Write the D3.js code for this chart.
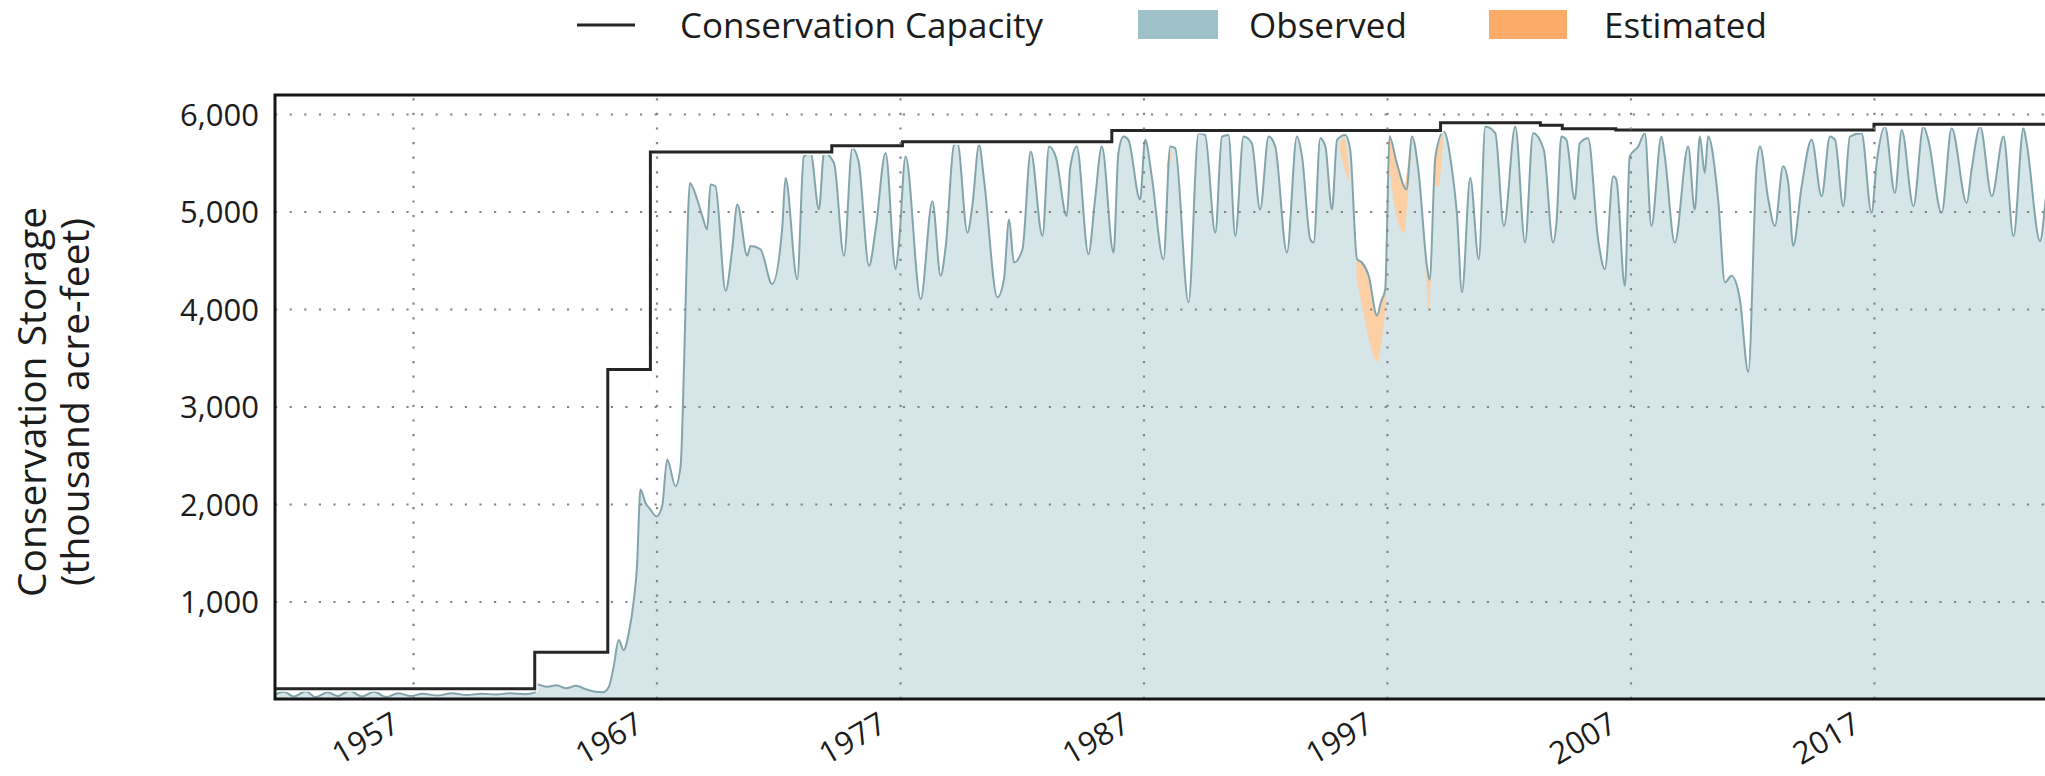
<!DOCTYPE html>
<html lang="en">
<head>
<meta charset="utf-8">
<title>Conservation Storage</title>
<script src="https://cdn.jsdelivr.net/npm/d3@7"></script>
<style>
  body { margin: 0; background: #fff; }
  text { font-family: "Open Sans", Lato, sans-serif; fill: #1c1c1c; }
  .axis text { font-size: 31px; }
  .axis .domain { display: none; }
  .grid line { stroke: #858585; stroke-width: 2.2; stroke-dasharray: 2.2 12.4; }
  .grid .domain { display: none; }
  .legend text { font-size: 35px; }
  .ytitle { font-size: 39px; }
</style>
</head>
<body>
<div class="chart"></div>
<script>

// observed conservation storage, [decimal year, thousand acre-feet]
var observed = [
  [1951.33, 45], [1951.7, 75], [1952.1, 25], [1952.6, 80], [1953.0, 20], [1953.5, 70],
  [1953.9, 30], [1954.4, 85], [1954.9, 25], [1955.4, 75], [1955.9, 20], [1956.4, 60],
  [1956.9, 30], [1957.4, 55], [1958.0, 35], [1958.6, 60], [1959.2, 40], [1959.8, 55],
  [1960.4, 45], [1961.0, 60], [1961.6, 50], [1962.0, 65], [1962.1, 150], [1962.5, 125],
  [1962.9, 140], [1963.3, 110], [1963.7, 135], [1964.1, 100], [1964.5, 75], [1964.8, 70],
  [1965.04, 124], [1965.24, 330], [1965.45, 604], [1965.65, 501], [1965.86, 673],
  [1966.07, 1016], [1966.2, 1359], [1966.34, 2148], [1966.55, 2011], [1966.75, 1942],
  [1967.0, 1873], [1967.23, 1976], [1967.44, 2456], [1967.78, 2182], [1967.99, 2388],
  [1968.13, 3417], [1968.22, 4300], [1968.3, 5000], [1968.37, 5293], [1968.67, 5123],
  [1968.88, 4953], [1969.08, 4817], [1969.22, 5276], [1969.42, 5259], [1969.84, 4188],
  [1970.11, 4613], [1970.32, 5072], [1970.73, 4545], [1970.86, 4647], [1971.27, 4613],
  [1971.75, 4256], [1972.16, 4817], [1972.3, 5344], [1972.78, 4307], [1973.05, 5565],
  [1973.33, 5599], [1973.67, 5021], [1973.88, 5599], [1974.29, 5497], [1974.7, 4545],
  [1975.04, 5650], [1975.3, 5514], [1975.73, 4443], [1976.0, 4817], [1976.41, 5599],
  [1976.82, 4409], [1976.96, 4681], [1977.23, 5565], [1977.85, 4103], [1978.33, 5106],
  [1978.67, 4341], [1978.88, 4647], [1979.22, 5684], [1979.36, 5701], [1979.77, 4783],
  [1979.97, 5055], [1980.25, 5684], [1980.45, 5327], [1981.0, 4120], [1981.27, 4307],
  [1981.48, 4919], [1981.68, 4477], [1982.03, 4613], [1982.37, 5616], [1982.85, 4749],
  [1983.12, 5667], [1983.4, 5560], [1983.85, 4953], [1983.99, 5446], [1984.26, 5667],
  [1984.74, 4562], [1985.01, 5123], [1985.29, 5667], [1985.77, 4579], [1985.97, 5599],
  [1986.18, 5769], [1986.38, 5735], [1986.86, 5123], [1987.07, 5735], [1987.34, 5361],
  [1987.82, 4511], [1988.1, 5667], [1988.3, 5650], [1988.85, 4069], [1989.26, 5803],
  [1989.53, 5786], [1989.95, 4783], [1990.22, 5769], [1990.49, 5786], [1990.77, 4749],
  [1991.11, 5769], [1991.45, 5701], [1991.79, 5021], [1992.14, 5769], [1992.41, 5667],
  [1992.89, 4579], [1993.3, 5769], [1993.51, 5565], [1993.85, 4715], [1993.99, 4681],
  [1994.26, 5752], [1994.47, 5667], [1994.74, 5021], [1994.95, 5735], [1995.29, 5786],
  [1995.49, 5633], [1995.77, 4511], [1995.97, 4477], [1996.25, 4341], [1996.59, 3933],
  [1996.75, 4070], [1996.93, 4205], [1997.0, 4800], [1997.1, 5769], [1997.4, 5500],
  [1997.8, 5225], [1998.03, 5769], [1998.3, 5400], [1998.64, 4443], [1998.75, 4300],
  [1998.99, 5565], [1999.33, 5820], [1999.67, 5429], [1999.88, 4953], [2000.08, 4171],
  [2000.42, 5344], [2000.77, 4511], [2001.04, 5871], [2001.45, 5803], [2001.8, 4851],
  [2002.27, 5871], [2002.67, 4681], [2003.0, 5803], [2003.44, 5633], [2003.82, 4681],
  [2003.96, 4885], [2004.16, 5769], [2004.37, 5735], [2004.71, 5123], [2004.92, 5701],
  [2005.26, 5752], [2005.67, 4715], [2005.95, 4409], [2006.29, 5361], [2006.42, 5327],
  [2006.77, 4239], [2006.97, 5565], [2007.32, 5667], [2007.59, 5803], [2007.86, 4851],
  [2008.27, 5769], [2008.41, 5565], [2008.82, 4681], [2009.37, 5667], [2009.64, 5021],
  [2009.85, 5769], [2010.05, 5395], [2010.19, 5769], [2010.6, 5123], [2010.88, 4273],
  [2011.15, 4341], [2011.49, 4103], [2011.84, 3355], [2012.18, 5463], [2012.32, 5667],
  [2012.66, 5123], [2012.93, 4851], [2013.27, 5463], [2013.48, 5293], [2013.68, 4647],
  [2014.03, 5259], [2014.44, 5735], [2014.85, 5157], [2015.19, 5769], [2015.4, 5735],
  [2015.74, 5055], [2016.01, 5769], [2016.49, 5803], [2016.9, 4987], [2017.11, 5497],
  [2017.45, 5871], [2017.86, 5191], [2018.14, 5837], [2018.62, 5055], [2019.03, 5871],
  [2019.23, 5735], [2019.78, 4987], [2020.19, 5854], [2020.81, 5089], [2021.01, 5429],
  [2021.36, 5871], [2021.84, 5157], [2022.32, 5769], [2022.73, 4749], [2023.14, 5854],
  [2023.27, 5701], [2023.82, 4698], [2024.1, 5225], [2024.4, 5700]
];

// estimated periods, [decimal year, low, high]
var estimatedA = [[1995.75, 4320, 4510], [1996.0, 4000, 4460], [1996.25, 3700, 4300],
                  [1996.59, 3460, 3933], [1996.8, 3700, 4080], [1996.95, 4040, 4200]];
var estimatedB = [[1997.08, 5500, 5780], [1997.35, 5000, 5550], [1997.7, 4780, 5260],
                  [1997.9, 5300, 5560], [1998.05, 5750, 5780]];
var estimatedC = [[1998.6, 4440, 4470], [1998.72, 4000, 4320], [1998.85, 4700, 4760]];
var estimatedD = [[1998.95, 5300, 5480], [1999.1, 5250, 5660], [1999.3, 5700, 5800]];
var estimatedE = [[1995.05, 5650, 5700], [1995.25, 5450, 5760], [1995.45, 5300, 5420]];
var estimatedF = [[1987.95, 5450, 5480], [1988.05, 5420, 5560], [1988.15, 5620, 5640]];

// conservation capacity steps, [decimal year, thousand acre-feet]
var capacity = [
  [1951.33, 105], [1962.0, 480], [1965.0, 3380], [1966.75, 5610], [1974.2, 5675],
  [1977.1, 5715], [1985.7, 5830], [1999.2, 5910], [2003.3, 5885], [2004.2, 5850],
  [2006.4, 5835], [2017.0, 5895], [2024.7, 5895]
];

var yTicks = [1000, 2000, 3000, 4000, 5000, 6000];
var xTicks = [1957, 1967, 1977, 1987, 1997, 2007, 2017];

var w = 2045, h = 776;
var padL = 275, padT = 95, padR = 2060, padB = 699;

var svg = d3.select("div.chart").append("svg")
  .attr("width", w).attr("height", h);

var xScale = d3.scaleLinear().domain([1951.333, 2024.64]).range([padL, padR]);
var yScale = d3.scaleLinear().domain([0, 6195]).range([padB, padT]);

svg.append("clipPath").attr("id", "plotclip")
  .append("rect").attr("x", padL).attr("y", padT)
  .attr("width", padR - padL).attr("height", padB - padT);

var plot = svg.append("g").attr("clip-path", "url(#plotclip)");

var obsArea = d3.area().curve(d3.curveMonotoneX)
  .x(d => xScale(d[0])).y0(yScale(0)).y1(d => yScale(d[1]));
var obsLine = d3.line().curve(d3.curveMonotoneX)
  .x(d => xScale(d[0])).y(d => yScale(d[1]));

plot.append("path").datum(observed)
  .attr("d", obsArea).attr("fill", "#9dc1c7").attr("fill-opacity", 0.42);

var band = d3.area().curve(d3.curveMonotoneX)
  .x(d => xScale(d[0])).y0(d => yScale(d[1])).y1(d => yScale(d[2]));
[estimatedA, estimatedB, estimatedC, estimatedD, estimatedE, estimatedF].forEach(function(s){
  plot.append("path").datum(s).attr("d", band).attr("fill", "#fccfa4");
});

plot.append("path").datum(observed)
  .attr("d", obsLine).attr("fill", "none")
  .attr("stroke", "#82a5ab").attr("stroke-width", 2);

// grid
svg.append("g").attr("class", "grid")
  .attr("transform", "translate(0," + padB + ")")
  .call(d3.axisBottom(xScale).tickValues(xTicks).tickSize(-(padB - padT)).tickFormat(""));
svg.append("g").attr("class", "grid")
  .attr("transform", "translate(" + padL + ",0)")
  .call(d3.axisLeft(yScale).tickValues(yTicks).tickSize(-(padR - padL)).tickFormat(""));

// capacity
var capLine = d3.line().curve(d3.curveStepAfter)
  .x(d => xScale(d[0])).y(d => yScale(d[1]));
plot.append("path").datum(capacity).attr("d", capLine)
  .attr("fill", "none").attr("stroke", "#fff").attr("stroke-width", 6);
plot.append("path").datum(capacity).attr("d", capLine)
  .attr("fill", "none").attr("stroke", "#262626").attr("stroke-width", 3);

// frame
svg.append("rect").attr("x", padL).attr("y", padT)
  .attr("width", padR - padL).attr("height", padB - padT)
  .attr("fill", "none").attr("stroke", "#151515").attr("stroke-width", 3);

// axes
var yAxis = svg.append("g").attr("class", "axis")
  .attr("transform", "translate(" + padL + ",0)")
  .call(d3.axisLeft(yScale).tickValues(yTicks).tickFormat(d3.format(",")).tickSize(0).tickPadding(16));
yAxis.selectAll("text").attr("dy", "0.36em");

var xAxis = svg.append("g").attr("class", "axis")
  .attr("transform", "translate(0," + padB + ")")
  .call(d3.axisBottom(xScale).tickValues(xTicks).tickFormat(d3.format("d")).tickSize(0));
xAxis.selectAll("text")
  .attr("x", 0).attr("y", 0).attr("dy", 0)
  .style("font-size", "31px")
  .attr("text-anchor", "end")
  .attr("transform", "translate(-12,31) rotate(-30)");

// y title
var yt = svg.append("text").attr("class", "ytitle")
  .attr("text-anchor", "middle")
  .attr("transform", "translate(0,402) rotate(-90)");
yt.append("tspan").attr("x", 0).attr("y", 46).text("Conservation Storage");
yt.append("tspan").attr("x", 0).attr("y", 89).text("(thousand acre-feet)");

// legend
var legend = svg.append("g").attr("class", "legend");
legend.append("line").attr("x1", 577).attr("x2", 635).attr("y1", 25).attr("y2", 25)
  .attr("stroke", "#262626").attr("stroke-width", 3);
legend.append("text").attr("x", 680).attr("y", 38).text("Conservation Capacity");
legend.append("rect").attr("x", 1138).attr("y", 10).attr("width", 80).attr("height", 29)
  .attr("fill", "#9dc1c7");
legend.append("text").attr("x", 1249).attr("y", 38).text("Observed");
legend.append("rect").attr("x", 1489).attr("y", 10).attr("width", 78).attr("height", 29)
  .attr("fill", "#fdab68");
legend.append("text").attr("x", 1604).attr("y", 38).text("Estimated");

</script>
</body>
</html>
